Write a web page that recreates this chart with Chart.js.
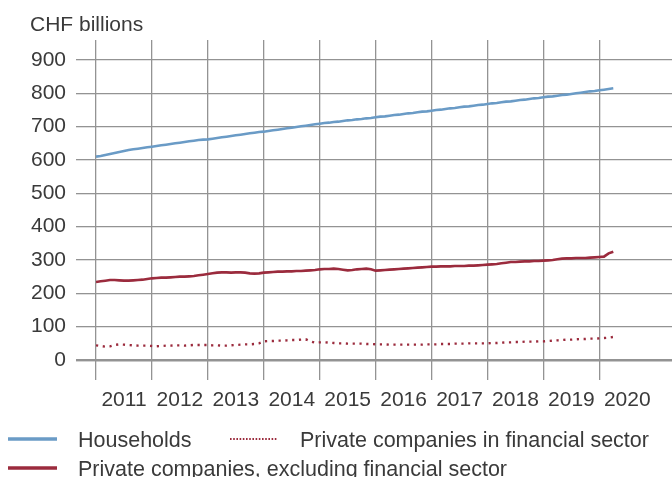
<!DOCTYPE html>
<html>
<head>
<meta charset="utf-8">
<script src="https://cdn.jsdelivr.net/npm/chart.js@4/dist/chart.umd.min.js"></script>
<style>
  html, body { margin: 0; padding: 0; background: #fff; }
  #wrap { width: 672px; height: 477px; position: relative; }
</style>
</head>
<body>
<div id="wrap"><canvas id="LineChart"></canvas></div>
<script>
// monthly, Jan 2011 .. Apr 2020
const startYear = 2011;
const households = [
  610, 612, 615, 618, 621, 624, 627, 630, 632, 634, 636, 638,
  640, 642, 644, 646, 648, 650, 652, 654, 656, 658, 660, 661,
  662, 664, 666, 668, 670, 672, 674, 676, 678, 680, 682, 684,
  685, 687, 689, 691, 693, 695, 697, 699, 701, 703, 705, 707,
  709, 711, 712, 714, 715, 717, 719, 720, 722, 723, 725, 726,
  728, 730, 731, 733, 735, 736, 738, 740, 741, 743, 745, 746,
  748, 750, 751, 753, 755, 756, 758, 760, 761, 763, 765, 766,
  768, 770, 771, 773, 775, 776, 778, 780, 781, 783, 785, 786,
  788, 790, 791, 793, 795, 796, 798, 800, 802, 804, 806, 807,
  809, 811, 813, 815
];
const privateExFin = [
  234, 236, 238, 240, 240, 239, 238, 238, 239, 240, 241, 243,
  245, 246, 247, 247, 248, 249, 250, 250, 251, 252, 254, 256,
  258, 260, 262, 263, 263, 262, 263, 263, 262, 260, 259, 260,
  262, 263, 264, 265, 265, 266, 266, 267, 267, 268, 269, 270,
  272, 273, 273, 274, 273, 271, 269, 270, 272, 273, 274, 272,
  268, 269, 270, 271, 272, 273, 274, 275, 276, 277, 278, 279,
  280, 280, 281, 281, 281, 282, 282, 282, 283, 283, 284, 285,
  286, 287, 288, 290, 292, 294, 294, 295, 296, 296, 297, 297,
  298, 299, 300, 302, 304, 305, 305, 306, 306, 306, 307, 308,
  309, 310, 320, 325
];
const privateFin = [
  44, 42, 40, 41, 45, 47, 46, 45, 44, 43, 43, 43,
  42, 41, 42, 43, 43, 44, 44, 43, 44, 45, 45, 45,
  45, 44, 44, 43, 43, 44, 45, 46, 47, 47, 48, 50,
  56, 57, 57, 58, 58, 59, 60, 60, 61, 62, 56, 52,
  53, 53, 52, 51, 50, 50, 49, 49, 49, 49, 48, 48,
  47, 47, 47, 46, 46, 46, 46, 46, 46, 46, 46, 47,
  47, 47, 48, 48, 48, 49, 49, 49, 50, 50, 50, 50,
  50, 51, 51, 52, 53, 53, 54, 54, 55, 55, 55, 56,
  56, 57, 58, 59, 60, 61, 61, 62, 63, 63, 64, 64,
  65, 66, 67, 69
];
const yearLabels = ['2011', '2012', '2013', '2014', '2015', '2016', '2017', '2018', '2019', '2020'];
const yTicks = [0, 100, 200, 300, 400, 500, 600, 700, 800, 900];
const seriesNames = ['Households', 'Private companies in financial sector', 'Private companies, excluding financial sector'];

const BLUE = '#6a9bc6';
const RED = '#9b2b3d';
const GRID = '#939393';
const TEXT = '#3a3a3a';
const FONT = '"Liberation Sans", Arial, sans-serif';

function toPoints(arr) {
  return arr.map((v, i) => ({ x: startYear + i / 12, y: v }));
}

// title and legend drawn on the canvas
const extras = {
  id: 'extras',
  afterDraw(chart) {
    const c = chart.ctx;
    c.save();
    c.fillStyle = TEXT;
    c.font = '21px ' + FONT;
    c.textBaseline = 'alphabetic';
    c.textAlign = 'left';
    c.fillText('CHF billions', 30, 31);

    const items = [
      { x: 8, len: 49, tx: 78, y: 439, color: BLUE, dash: [], w: 3.5, text: seriesNames[0] },
      { x: 230, len: 47, tx: 300, y: 439, color: RED, dash: [1.6, 1.6], w: 2, text: seriesNames[1] },
      { x: 8, len: 49, tx: 78, y: 468, color: RED, dash: [], w: 3.5, text: seriesNames[2] }
    ];
    c.font = '21.5px ' + FONT;
    c.textBaseline = 'middle';
    items.forEach(it => {
      c.strokeStyle = it.color;
      c.lineWidth = it.w;
      c.setLineDash(it.dash);
      c.beginPath();
      c.moveTo(it.x, it.y);
      c.lineTo(it.x + it.len, it.y);
      c.stroke();
      c.fillText(it.text, it.tx, it.y + 2);
    });
    c.restore();
  }
};

const ctx = document.getElementById('LineChart');
const myChart = new Chart(ctx, {
  type: 'line',
  data: {
    datasets: [
      {
        label: seriesNames[0],
        data: toPoints(households),
        borderColor: BLUE,
        borderWidth: 2.6
      },
      {
        label: seriesNames[1],
        data: toPoints(privateFin),
        borderColor: RED,
        borderWidth: 2.4,
        borderDash: [2.2, 4.6]
      },
      {
        label: seriesNames[2],
        data: toPoints(privateExFin),
        borderColor: RED,
        borderWidth: 2.6
      }
    ]
  },
  options: {
    responsive: true,
    maintainAspectRatio: false,
    animation: false,
    elements: { point: { radius: 0 }, line: { tension: 0 } },
    layout: { padding: { top: 40, left: 0, right: 0, bottom: 0 } },
    plugins: { legend: { display: false }, tooltip: { enabled: false } },
    scales: {
      x: {
        type: 'linear',
        min: 2011,
        max: 2021.3,
        border: { display: false },
        grid: { color: GRID, lineWidth: 1.3, tickLength: 20 },
        afterBuildTicks: s => { s.ticks = s.ticks.filter(t => Number.isInteger(t.value)); },
        afterFit: s => { s.height = 117; },
        ticks: {
          stepSize: 1,
          autoSkip: false,
          maxRotation: 0,
          labelOffset: 28,
          padding: 8,
          color: TEXT,
          font: { family: FONT, size: 21 },
          callback: v => yearLabels[v - startYear] || ''
        }
      },
      y: {
        min: 0,
        max: 960,
        border: { display: false },
        grid: {
          color: GRID,
          lineWidth: c => (c.tick && c.tick.value === 0 ? 2.4 : 1.3),
          tickLength: 20
        },
        afterBuildTicks: s => { s.ticks = yTicks.map(v => ({ value: v })); },
        afterFit: s => { s.width = 96; },
        ticks: {
          padding: 10,
          color: TEXT,
          font: { family: FONT, size: 21 }
        }
      }
    }
  },
  plugins: [extras]
});
</script>
</body>
</html>
